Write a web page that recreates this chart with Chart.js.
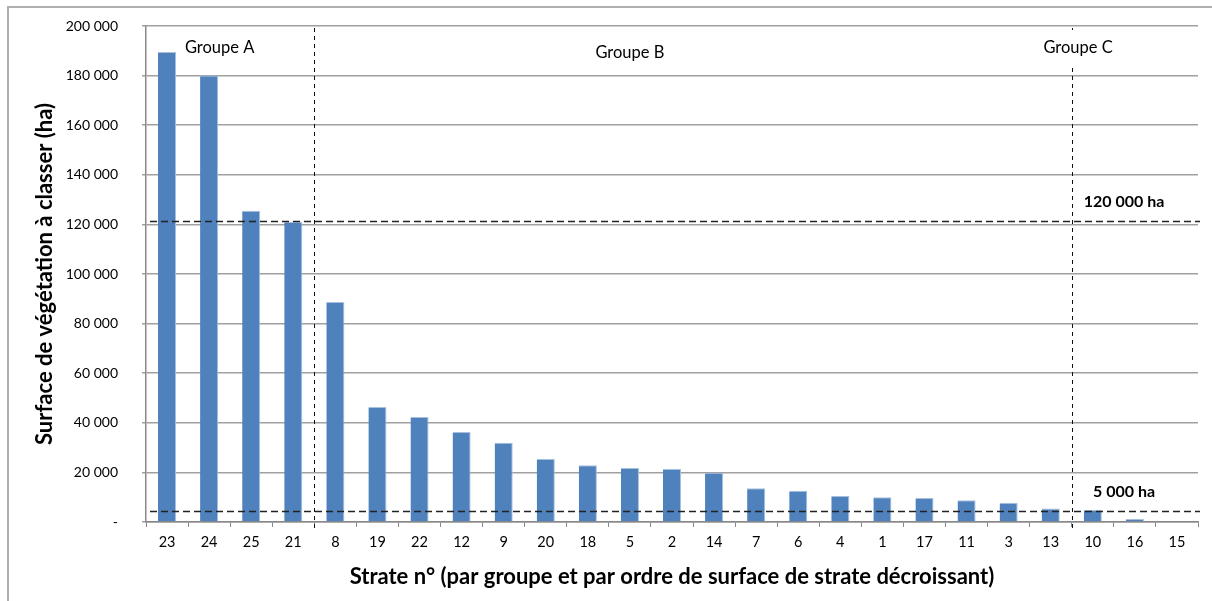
<!DOCTYPE html>
<html><head><meta charset="utf-8">
<script src="https://cdn.jsdelivr.net/npm/chart.js@4/dist/chart.umd.min.js"></script>
<style>html,body{margin:0;padding:0;background:#fff;}#wrap{position:relative;width:1212px;height:601px;}</style>
</head><body><div id="wrap"><canvas id="c" width="1212" height="601"></canvas></div>
<script>
const categories = ['23','24','25','21','8','19','22','12','9','20','18','5','2','14','7','6','4','1','17','11','3','13','10','16','15'];
const surfaces = [189500,180000,125500,121000,88700,46400,42300,36300,32000,25400,22850,21800,21400,19900,13600,12600,10500,10000,9700,8750,7800,5400,4800,1200,0];
const yTicks = [0,20000,40000,60000,80000,100000,120000,140000,160000,180000,200000];
const thresholds = [121500, 4600];
const thresholdLabels = ['120 000 ha', '5 000 ha'];
const groupBreaks = [3.5, 21.5];
const groupLabels = ['Groupe A', 'Groupe B', 'Groupe C'];
const groupLabelAt = [1.25, 11.0, 21.65];

const FONT = 'Lato, Carlito, "Liberation Sans", sans-serif';

function fmt(v){
  if (v === 0) return '-';
  return String(v).replace(/\B(?=(\d{3})+(?!\d))/g, ' ');
}

const overlay = {
  id: 'overlay',
  beforeDraw(chart){
    const ctx = chart.ctx;
    ctx.save();
    ctx.strokeStyle = '#b0b0b0';
    ctx.lineWidth = 2;
    ctx.beginPath();
    ctx.moveTo(8, 601); ctx.lineTo(8, 7); ctx.lineTo(1212, 7);
    ctx.stroke();
    ctx.restore();
  },
  afterDatasetsDraw(chart){
    const ctx = chart.ctx, x = chart.scales.x, y = chart.scales.y, a = chart.chartArea;
    const cw = x.getPixelForValue(1) - x.getPixelForValue(0);
    const x0 = x.getPixelForValue(0);
    ctx.save();
    // horizontal thresholds
    ctx.strokeStyle = '#222';
    ctx.lineWidth = 1.5;
    ctx.setLineDash([7,4]);
    thresholds.forEach(t => {
      const py = Math.round(y.getPixelForValue(t)) + 0.5;
      ctx.beginPath(); ctx.moveTo(a.left + 4, py); ctx.lineTo(a.right + 2, py); ctx.stroke();
    });
    // vertical group breaks
    ctx.lineWidth = 1;
    ctx.setLineDash([4,4]);
    ctx.strokeStyle = '#111';
    groupBreaks.forEach(g => {
      const px = Math.round(x0 + g * cw) + 0.5;
      ctx.beginPath(); ctx.moveTo(px, a.top + 2); ctx.lineTo(px, a.bottom + 6); ctx.stroke();
    });
    ctx.setLineDash([]);
    // group labels
    ctx.font = '16.5px ' + FONT;
    ctx.textAlign = 'center';
    ctx.textBaseline = 'middle';
    const gy = [48, 53, 48];
    groupLabels.forEach((lab, i) => {
      const cx = x0 + groupLabelAt[i] * cw;
      const w = ctx.measureText(lab).width;
      ctx.fillStyle = '#fff';
      ctx.fillRect(cx - w/2 - 3, gy[i] - 18, w + 6, 37);
      ctx.fillStyle = '#000';
      ctx.fillText(lab, cx, gy[i]);
    });
    // threshold labels
    ctx.font = 'bold 16px ' + FONT;
    const lx = [1124, 1124];
    thresholds.forEach((t, i) => {
      const py = y.getPixelForValue(t);
      ctx.fillText(thresholdLabels[i], lx[i], py - 19);
    });
    ctx.restore();
  }
};

new Chart(document.getElementById('c'), {
  type: 'bar',
  data: {
    labels: categories,
    datasets: [{
      data: surfaces,
      backgroundColor: '#4F81BD',
      borderColor: '#A7C0DE',
      borderWidth: {top: 1, right: 1, left: 0, bottom: 0},
      borderSkipped: 'bottom',
      categoryPercentage: 1,
      barPercentage: 0.43
    }]
  },
  options: {
    responsive: false,
    animation: false,
    devicePixelRatio: 1,
    layout: { padding: { top: 26, right: 14, left: 0, bottom: 0 } },
    plugins: { legend: { display: false }, tooltip: { enabled: false } },
    scales: {
      x: {
        offset: true,
        grid: { display: true, drawOnChartArea: false, drawTicks: true, tickLength: 5, offset: true, color: '#888' },
        border: { color: '#888', width: 1.5 },
        ticks: { color: '#000', font: { family: FONT, size: 14.5 }, padding: 7, maxRotation: 0, autoSkip: false },
        title: { display: true, text: 'Strate n° (par groupe et par ordre de surface de strate décroissant)', color: '#000',
          font: { family: FONT, size: 22, weight: 'bold' }, padding: { top: 6, bottom: 11 } },
        afterFit(s){ s.height = 79; s.paddingLeft = 0; s.paddingRight = 0; }
      },
      y: {
        min: 0, max: 200000,
        afterBuildTicks(s){ s.ticks = yTicks.map(v => ({value: v})); },
        grid: { color: '#a0a0a0', lineWidth: 1.5, tickLength: 4, drawTicks: true },
        border: { color: '#888', width: 1.5 },
        ticks: { color: '#000', font: { family: FONT, size: 14 }, padding: 24, callback: v => fmt(v) },
        title: { display: true, text: 'Surface de végétation à classer (ha)', color: '#000',
          font: { family: FONT, size: 22, weight: 'bold' }, padding: { top: 32, bottom: 0 } },
        afterFit(s){ s.width = 146; s.paddingTop = 0; s.paddingBottom = 0; }
      }
    }
  },
  plugins: [overlay]
});
</script></body></html>
